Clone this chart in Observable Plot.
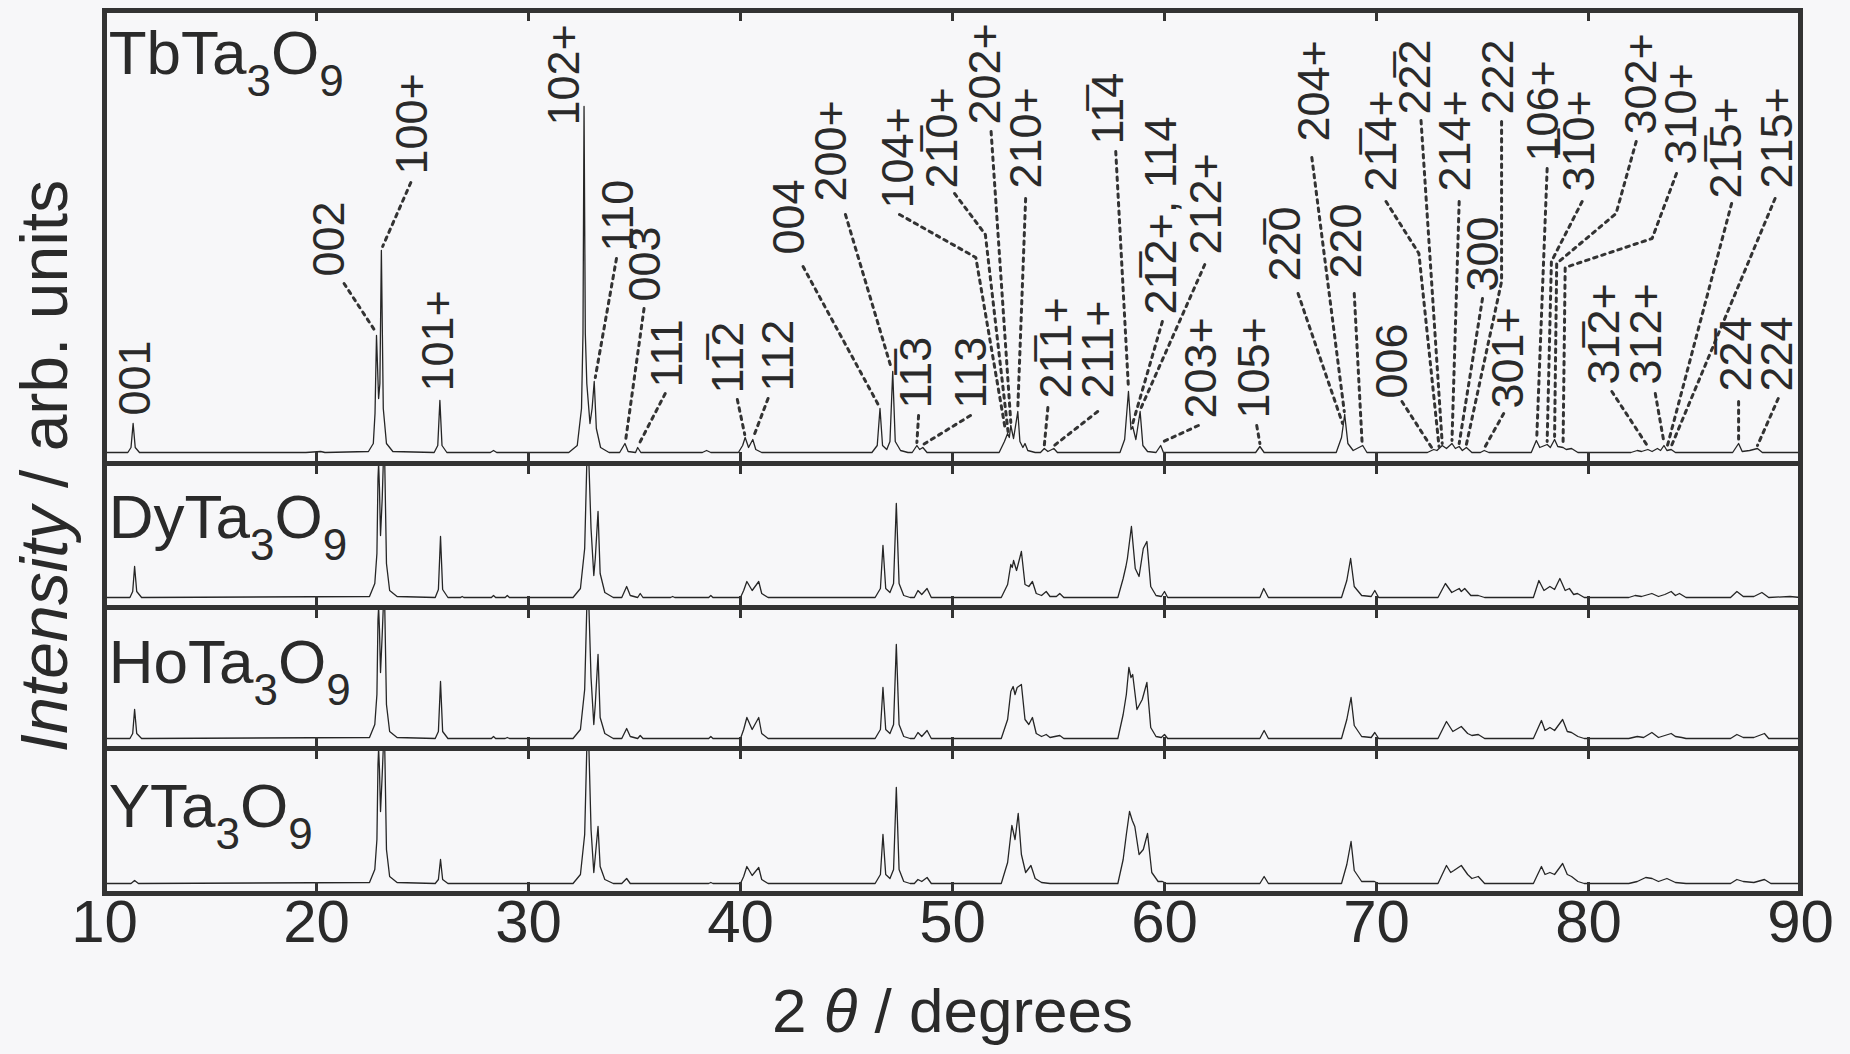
<!DOCTYPE html>
<html>
<head>
<meta charset="utf-8">
<script src="https://cdn.jsdelivr.net/npm/d3@7"></script>
<script src="https://cdn.jsdelivr.net/npm/@observablehq/plot@0.6"></script>
<style>
  html, body { margin: 0; padding: 0; background: #f7f7f9; }
  #chart svg { display: block; }
</style>
</head>
<body>
<div id="chart"></div>
<script>
// ---------------- DATA ----------------
// x in degrees 2θ, intensity in arbitrary units (same scale for all panels)
const xTicks = [10, 20, 30, 40, 50, 60, 70, 80, 90];
const innerTicks = [20, 30, 40, 50, 60, 70, 80];
const compounds = ["TbTa3O9", "DyTa3O9", "HoTa3O9", "YTa3O9"];

const tbTrace = [[10,1],[11.1,1],[11.25,6],[11.35,30],[11.45,6],[11.65,1],[19.5,1],[20.2,2],[20.4,1],
[22.45,2],[22.68,10],[22.76,40],[22.83,118],[22.93,55],[22.99,70],[23.06,203],[23.15,45],[23.3,10],[23.6,2],
[25.55,1],[25.72,8],[25.82,53],[25.92,8],[26.15,1],[28.2,1],[28.35,3],[28.5,1],
[31.9,1],[32.3,8],[32.5,45],[32.57,120],[32.62,347],[32.68,120],[32.75,70],[32.9,30],[33.0,45],[33.1,72],[33.2,25],[33.4,6],[33.8,1],
[34.3,1],[34.55,10],[34.7,2],[35.05,1],[35.15,6],[35.3,1],[38.2,1],[38.4,3],[38.6,1],
[39.9,1],[40.1,8],[40.22,16],[40.38,6],[40.58,14],[40.72,4],[41.0,1],
[46.2,1],[46.45,8],[46.58,45],[46.7,8],[46.9,4],[47.05,12],[47.18,82],[47.3,12],[47.55,3],[47.9,1],
[48.1,1],[48.32,8],[48.45,4],[48.6,6],[48.8,1],
[52.2,1],[52.45,12],[52.6,20],[52.68,16],[52.75,28],[52.88,15],[53.08,42],[53.18,12],[53.32,6],[53.42,10],[53.55,3],[53.9,1],
[54.15,1],[54.33,5],[54.5,2],[54.78,5],[54.95,1],
[57.9,1],[58.12,14],[58.3,62],[58.42,24],[58.5,27],[58.65,14],[58.85,42],[58.98,8],[59.2,2],[59.6,1],[59.82,8],[59.95,1],
[64.3,1],[64.5,7],[64.7,1],[68.1,1],[68.35,16],[68.5,39],[68.65,10],[68.9,3],[69.35,8],[69.55,1],
[72.4,1],[72.7,4],[72.85,3],[73.1,8],[73.3,5],[73.56,10],[73.72,5],[73.9,7],[74.05,3],[74.24,6],[74.5,1],
[74.9,1],[75.08,3],[75.3,1],
[77.3,1],[77.54,13],[77.7,6],[78.05,9],[78.2,6],[78.4,14],[78.55,7],[78.8,6],[78.95,4],[79.2,5],[79.5,1],
[82.0,1],[82.3,3],[82.5,2],[82.8,4],[83.0,2],[83.25,5],[83.4,3],[83.56,8],[83.7,3],[83.9,4],[84.1,1],
[86.8,1],[87.08,10],[87.25,2],[87.6,3],[87.97,5],[88.2,1],[90,1]];

const dyTrace = [[10,1],[11.2,1],[11.33,7],[11.42,32],[11.52,7],[11.75,1],
[22.5,2],[22.75,15],[22.85,45],[22.9,120],[22.93,250],[22.97,110],[23.02,63],[23.1,100],[23.15,200],[23.18,400],[23.22,150],[23.3,35],[23.45,8],[23.8,2],
[25.6,1],[25.75,9],[25.85,62],[25.95,9],[26.2,1],[26.8,1],[26.87,2],[26.95,1],[28.25,1],[28.35,3],[28.45,1],[28.9,1],[29.0,3],[29.1,1],
[32.1,1],[32.45,10],[32.65,50],[32.75,140],[32.8,400],[32.85,140],[32.95,70],[33.08,23],[33.15,40],[33.28,87],[33.38,25],[33.6,6],[34.0,1],
[34.4,1],[34.63,12],[34.8,3],[35.15,1],[35.27,5],[35.4,1],[36.7,1],[36.8,2],[36.9,1],[38.5,1],[38.6,3],[38.7,1],
[40.0,1],[40.15,8],[40.3,17],[40.55,8],[40.86,17],[41.0,5],[41.3,1],
[46.35,1],[46.6,10],[46.72,53],[46.85,10],[47.05,6],[47.22,15],[47.35,95],[47.48,15],[47.7,3],[48.0,1],
[48.2,1],[48.37,8],[48.55,4],[48.8,10],[49.0,1],
[52.3,1],[52.6,14],[52.75,34],[52.82,31],[52.88,38],[53.02,28],[53.25,47],[53.42,14],[53.6,12],[53.77,17],[53.95,5],[54.2,3],[54.42,7],[54.6,2],[54.9,2],[55.06,5],[55.25,1],
[57.8,1],[58.05,20],[58.18,32],[58.25,40],[58.44,72],[58.62,30],[58.8,22],[59.0,50],[59.17,57],[59.35,12],[59.6,3],[59.85,2],[60.0,7],[60.15,1],
[64.5,1],[64.68,10],[64.9,1],[68.35,1],[68.6,18],[68.78,40],[68.95,12],[69.3,3],[69.75,2],[69.92,8],[70.1,1],
[72.9,1],[73.25,15],[73.55,6],[73.9,10],[74.0,7],[74.16,10],[74.45,3],[74.8,3],[75.1,1],
[77.4,1],[77.66,18],[77.9,8],[78.18,12],[78.4,9],[78.65,20],[78.9,8],[79.1,10],[79.3,4],[79.48,5],[79.8,1],
[81.9,1],[82.2,3],[82.5,2],[82.99,5],[83.3,2],[83.6,4],[83.9,7],[84.1,3],[84.29,5],[84.6,1],
[86.7,1],[87.0,7],[87.3,2],[87.8,2],[88.18,6],[88.5,1],[89.5,2],[90,1]];

const hoTrace = [[10,1],[11.2,1],[11.33,6],[11.42,30],[11.52,6],[11.75,1],
[22.5,2],[22.75,15],[22.85,45],[22.9,120],[22.93,250],[22.97,110],[23.02,67],[23.1,105],[23.15,200],[23.18,400],[23.22,150],[23.3,35],[23.45,8],[23.8,2],
[25.6,1],[25.75,8],[25.85,58],[25.95,8],[26.2,1],[28.25,1],[28.35,3],[28.45,1],[28.9,1],[29.0,2],[29.1,1],
[32.1,1],[32.45,10],[32.65,50],[32.75,140],[32.8,400],[32.85,140],[32.95,62],[33.08,15],[33.15,35],[33.28,85],[33.38,22],[33.6,6],[34.0,1],
[34.4,1],[34.63,11],[34.8,3],[35.15,1],[35.27,4],[35.4,1],[38.5,1],[38.6,3],[38.7,1],
[40.0,1],[40.15,10],[40.3,22],[40.55,10],[40.86,22],[41.0,6],[41.3,1],
[46.35,1],[46.6,10],[46.72,52],[46.85,10],[47.05,6],[47.22,15],[47.35,95],[47.48,15],[47.7,3],[48.0,1],
[48.2,1],[48.37,7],[48.55,3],[48.8,9],[49.0,1],
[52.3,1],[52.6,20],[52.75,48],[52.86,53],[52.95,45],[53.05,52],[53.25,55],[53.42,20],[53.6,15],[53.77,22],[53.95,6],[54.2,3],[54.42,5],[54.6,2],[55.06,4],[55.25,1],
[57.8,1],[58.05,25],[58.2,45],[58.32,72],[58.42,62],[58.5,65],[58.7,30],[58.95,40],[59.17,57],[59.35,12],[59.6,3],[59.85,2],[60.0,5],[60.15,1],
[64.5,1],[64.7,9],[64.9,1],[68.35,1],[68.6,20],[68.8,42],[68.95,14],[69.3,3],[69.75,2],[69.92,7],[70.1,1],
[72.9,1],[73.3,18],[73.6,8],[74.0,13],[74.3,6],[74.5,4],[74.8,5],[75.1,1],
[77.4,1],[77.78,19],[77.95,9],[78.18,12],[78.4,9],[78.78,20],[79.0,8],[79.2,7],[79.5,3],[79.8,1],
[81.9,1],[82.3,3],[82.6,2],[82.99,7],[83.3,2],[83.9,6],[84.1,3],[84.4,2],[84.6,1],
[86.7,1],[87.0,5],[87.3,2],[87.8,2],[88.3,6],[88.5,1],[90,1]];

const yTrace = [[10,1],[11.25,1],[11.42,4],[11.6,1],
[22.5,2],[22.75,15],[22.85,45],[22.9,120],[22.93,250],[22.97,115],[23.02,73],[23.1,110],[23.15,200],[23.18,400],[23.22,150],[23.3,35],[23.45,8],[23.8,2],
[25.6,1],[25.75,5],[25.85,25],[25.95,5],[26.2,1],
[32.1,1],[32.45,10],[32.65,50],[32.75,140],[32.8,400],[32.85,140],[32.95,55],[33.08,12],[33.15,28],[33.28,58],[33.38,18],[33.6,5],[34.0,1],
[34.4,1],[34.63,6],[34.8,1],[38.5,1],[38.6,2],[38.7,1],
[40.0,1],[40.15,8],[40.3,18],[40.55,9],[40.86,17],[41.0,5],[41.3,1],
[46.35,1],[46.6,10],[46.72,50],[46.85,10],[47.05,6],[47.22,15],[47.35,97],[47.48,15],[47.7,3],[48.0,1],
[48.2,1],[48.37,5],[48.55,3],[48.8,7],[49.0,1],
[52.3,1],[52.6,22],[52.8,59],[52.95,45],[53.1,71],[53.25,30],[53.45,12],[53.7,19],[53.9,6],[54.2,2],[54.6,1],
[57.8,1],[58.05,25],[58.2,50],[58.35,73],[58.48,64],[58.6,58],[58.8,30],[59.0,35],[59.2,51],[59.4,12],[59.7,3],[59.9,3],[60.1,1],
[64.5,1],[64.7,8],[64.9,1],[68.35,1],[68.6,20],[68.8,43],[68.95,14],[69.3,3],[69.9,3],[70.1,1],
[72.9,1],[73.3,19],[73.5,12],[73.65,14],[74.0,19],[74.3,10],[74.5,6],[74.8,8],[75.1,1],
[77.4,1],[77.78,18],[77.95,10],[78.18,12],[78.4,10],[78.78,21],[79.0,10],[79.2,8],[79.5,3],[79.8,1],
[81.9,1],[82.3,3],[82.7,7],[83.0,6],[83.3,3],[83.7,6],[84.1,2],[84.6,1],
[86.7,1],[87.0,5],[87.3,3],[87.8,2],[88.3,5],[88.6,1],[90,1]];

// Peak labels of TbTa3O9: text, x (2θ), y (intensity at text start), dotted leader points [2θ, intensity]
const B = "\u0305"; // combining overline (bar over the preceding index)
const peakLabels = [
  {text: "001", x: 11.45, y: 38, leader: null},
  {text: "002", x: 20.63, y: 177, leader: [[21.3,170],[22.78,122]]},
  {text: "100+", x: 24.55, y: 279, leader: [[24.45,271],[23.12,207]]},
  {text: "101+", x: 25.75, y: 62, leader: null},
  {text: "102+", x: 31.7, y: 328, leader: null},
  {text: "110", x: 34.25, y: 202, leader: [[34.15,195],[33.15,76]]},
  {text: "003", x: 35.5, y: 152, leader: [[35.45,145],[34.58,13]]},
  {text: "111", x: 36.55, y: 66, leader: [[36.45,60],[35.2,9]]},
  {text: "11" + B + "2", x: 39.45, y: 60, leader: [[39.85,54],[40.2,19]]},
  {text: "112", x: 41.8, y: 62, leader: [[41.3,55],[40.62,17]]},
  {text: "004", x: 42.3, y: 199, leader: [[42.95,187],[46.52,48]]},
  {text: "200+", x: 44.3, y: 252, leader: [[44.95,239],[47.12,85]]},
  {text: "104+", x: 47.45, y: 245, leader: [[47.5,239],[51.1,196],[52.5,23]]},
  {text: "21" + B + "0+", x: 49.55, y: 265, leader: [[50.1,260],[51.55,219],[52.62,22]]},
  {text: "202+", x: 51.55, y: 329, leader: [[51.82,322],[52.75,31]]},
  {text: "210+", x: 53.5, y: 265, leader: [[53.45,255],[53.08,45]]},
  {text: "11" + B + "3", x: 48.3, y: 45, leader: [[48.4,38],[48.32,11]]},
  {text: "113", x: 50.9, y: 45, leader: [[50.85,38],[48.62,9]]},
  {text: "21" + B + "1+", x: 54.9, y: 55, leader: [[54.5,46],[54.33,8]]},
  {text: "211+", x: 56.9, y: 55, leader: [[56.85,42],[54.8,8]]},
  {text: "11" + B + "4", x: 57.35, y: 309, leader: [[57.7,302],[58.3,65]]},
  {text: "21" + B + "2+, 114", x: 59.85, y: 139, leader: [[59.9,132],[58.5,30]]},
  {text: "212+", x: 62.0, y: 199, leader: [[61.9,189],[58.88,45]]},
  {text: "203+", x: 61.75, y: 35, leader: [[61.6,28],[59.85,11]]},
  {text: "105+", x: 64.25, y: 35, leader: [[64.35,28],[64.5,10]]},
  {text: "22" + B + "0", x: 65.7, y: 172, leader: [[66.3,160],[68.4,30]]},
  {text: "204+", x: 67.1, y: 312, leader: [[66.95,296],[68.48,42]]},
  {text: "220", x: 68.6, y: 175, leader: [[68.95,160],[69.32,11]]},
  {text: "006", x: 70.75, y: 55, leader: [[71.2,52],[72.6,6]]},
  {text: "21" + B + "4+", x: 70.25, y: 262, leader: [[70.45,252],[72.0,200],[72.95,7]]},
  {text: "22" + B + "2", x: 71.85, y: 339, leader: [[72.1,333],[73.1,10]]},
  {text: "214+", x: 73.75, y: 262, leader: [[73.9,252],[73.56,13]]},
  {text: "300", x: 75.05, y: 162, leader: [[75.0,155],[73.9,10]]},
  {text: "222", x: 75.75, y: 339, leader: [[75.9,332],[75.9,172],[74.24,9]]},
  {text: "301+", x: 76.25, y: 45, leader: [[76.0,40],[75.1,6]]},
  {text: "106+", x: 77.9, y: 292, leader: [[78.05,285],[77.56,16]]},
  {text: "31" + B + "0+", x: 79.6, y: 262, leader: [[79.7,252],[78.25,192],[78.05,12]]},
  {text: "302+", x: 82.5, y: 319, leader: [[82.25,312],[81.3,240],[78.5,190],[78.4,17]]},
  {text: "310+", x: 84.4, y: 289, leader: [[84.15,280],[83.0,215],[78.9,186],[78.8,9]]},
  {text: "31" + B + "2+", x: 80.75, y: 69, leader: [[81.1,62],[82.8,7]]},
  {text: "312+", x: 82.75, y: 69, leader: [[83.15,60],[83.56,11]]},
  {text: "21" + B + "5+", x: 86.5, y: 255, leader: [[86.75,250],[83.7,6]]},
  {text: "215+", x: 88.9, y: 265, leader: [[88.8,255],[83.9,7]]},
  {text: "22" + B + "4", x: 87.0, y: 62, leader: [[87.08,52],[87.08,14]]},
  {text: "224", x: 88.9, y: 62, leader: [[88.95,55],[87.97,8]]}
];

// ---------------- LAYOUT ----------------
const W = 1850, H = 1054;
const margin = {top: 10, right: 50, bottom: 161, left: 104};
// vertical stacking in intensity units (1 unit = 1 px): panel bounds and trace baselines
const panelTop = [883, 430, 286, 145];
const baseline = [440, 295, 154, 9];
const nameY = [820, 356, 211, 67];
const traces = [tbTrace, dyTrace, hoTrace, yTrace];
const FONT = "'Liberation Sans', Arial, Helvetica, sans-serif";
const INK = "#2a2a2a";

const lineData = traces.flatMap((tr, k) =>
  tr.map(([x, v]) => ({k, x, y: baseline[k] + Math.min(v, panelTop[k] - baseline[k])})));

const bounds = [0, 145, 286, 430, 883];
const tickData = bounds.flatMap(b => innerTicks.map(x => ({
  x, y1: b === 0 ? 0 : b - 11, y2: b === 883 ? 883 : b + 11
})));

const labelData = peakLabels.map(l => ({text: l.text, x: l.x, y: baseline[0] + l.y}));
const leaderData = peakLabels.flatMap((l, i) =>
  (l.leader || []).map(([x, v]) => ({i, x, y: baseline[0] + v})));

const nameData = compounds.map((c, k) => ({text: c, x: 10.2, y: nameY[k]}));

const svg = Plot.plot({
  width: W, height: H,
  marginTop: margin.top, marginRight: margin.right, marginBottom: margin.bottom, marginLeft: margin.left,
  x: {domain: [10, 90], axis: null},
  y: {domain: [0, 883], axis: null},
  style: {fontFamily: FONT, background: "#f7f7f9", color: INK, overflow: "visible"},
  marks: [
    Plot.line(lineData, {x: "x", y: "y", z: "k", stroke: "#262626", strokeWidth: 1.3, curve: "linear"}),
    Plot.line(leaderData, {x: "x", y: "y", z: "i", stroke: "#333", strokeWidth: 3, strokeDasharray: "3.5,5"}),
    Plot.text(labelData, {x: "x", y: "y", text: "text", rotate: -90, textAnchor: "start", lineAnchor: "middle",
      fontSize: 45, fill: INK}),
    Plot.text(nameData, {x: "x", y: "y", text: "text", textAnchor: "start", lineAnchor: "bottom",
      fontSize: 62, fill: INK, ariaLabel: () => "compound"}),
    Plot.ruleX(tickData, {x: "x", y1: "y1", y2: "y2", stroke: "#333", strokeWidth: 3}),
    Plot.ruleY(bounds.slice(1, 4), {stroke: "#333", strokeWidth: 5}),
    Plot.frame({stroke: "#333", strokeWidth: 5}),
    Plot.text(xTicks, {x: d => d, text: d => String(d), frameAnchor: "bottom", dy: 6, lineAnchor: "top",
      fontSize: 60, fill: INK}),
    Plot.text(["2 θ / degrees"], {frameAnchor: "bottom", dy: 119, lineAnchor: "middle", textAnchor: "middle",
      fontSize: 62, fill: INK, ariaLabel: () => "xtitle"}),
    Plot.text(["Intensity / arb. units"], {frameAnchor: "left", dx: -59, dy: 14, rotate: -90,
      textAnchor: "middle", lineAnchor: "middle", fontSize: 66, fill: INK, ariaLabel: () => "ytitle"})
  ]
});

// ---- rich text: subscripts and italics ----
function textsOf(name) {
  const out = [];
  svg.querySelectorAll(`[aria-label="${name}"]`).forEach(el => {
    if (el.tagName.toLowerCase() === "text") out.push(el);
    else el.querySelectorAll("text").forEach(t => out.push(t));
  });
  return out;
}
function findTexts(name, content) {
  let list = textsOf(name);
  if (!list.length) list = Array.from(svg.querySelectorAll("text")).filter(t => content(t.textContent));
  return list;
}

findTexts("compound", s => compounds.includes(s)).forEach(el => {
  const t = d3.select(el);
  const str = el.textContent;
  t.text(null);
  let sub = false;
  for (const m of str.matchAll(/(\D+)|(\d+)/g)) {
    if (m[1]) {
      t.append("tspan").attr("dy", sub ? -22 : null).text(m[1]);
      sub = false;
    } else {
      t.append("tspan").attr("dy", 22).attr("font-size", 44).text(m[2]);
      sub = true;
    }
  }
});
findTexts("xtitle", s => s === "2 θ / degrees").forEach(el => {
  const t = d3.select(el).style("white-space", "pre");
  t.text(null);
  t.append("tspan").text("2 ");
  t.append("tspan").attr("font-style", "italic").text("θ");
  t.append("tspan").text(" / degrees");
});
findTexts("ytitle", s => s === "Intensity / arb. units").forEach(el => {
  const t = d3.select(el).style("white-space", "pre");
  t.text(null);
  t.append("tspan").attr("font-style", "italic").text("Intensity");
  t.append("tspan").text(" / arb. units");
});

document.getElementById("chart").append(svg);
</script>
</body>
</html>
